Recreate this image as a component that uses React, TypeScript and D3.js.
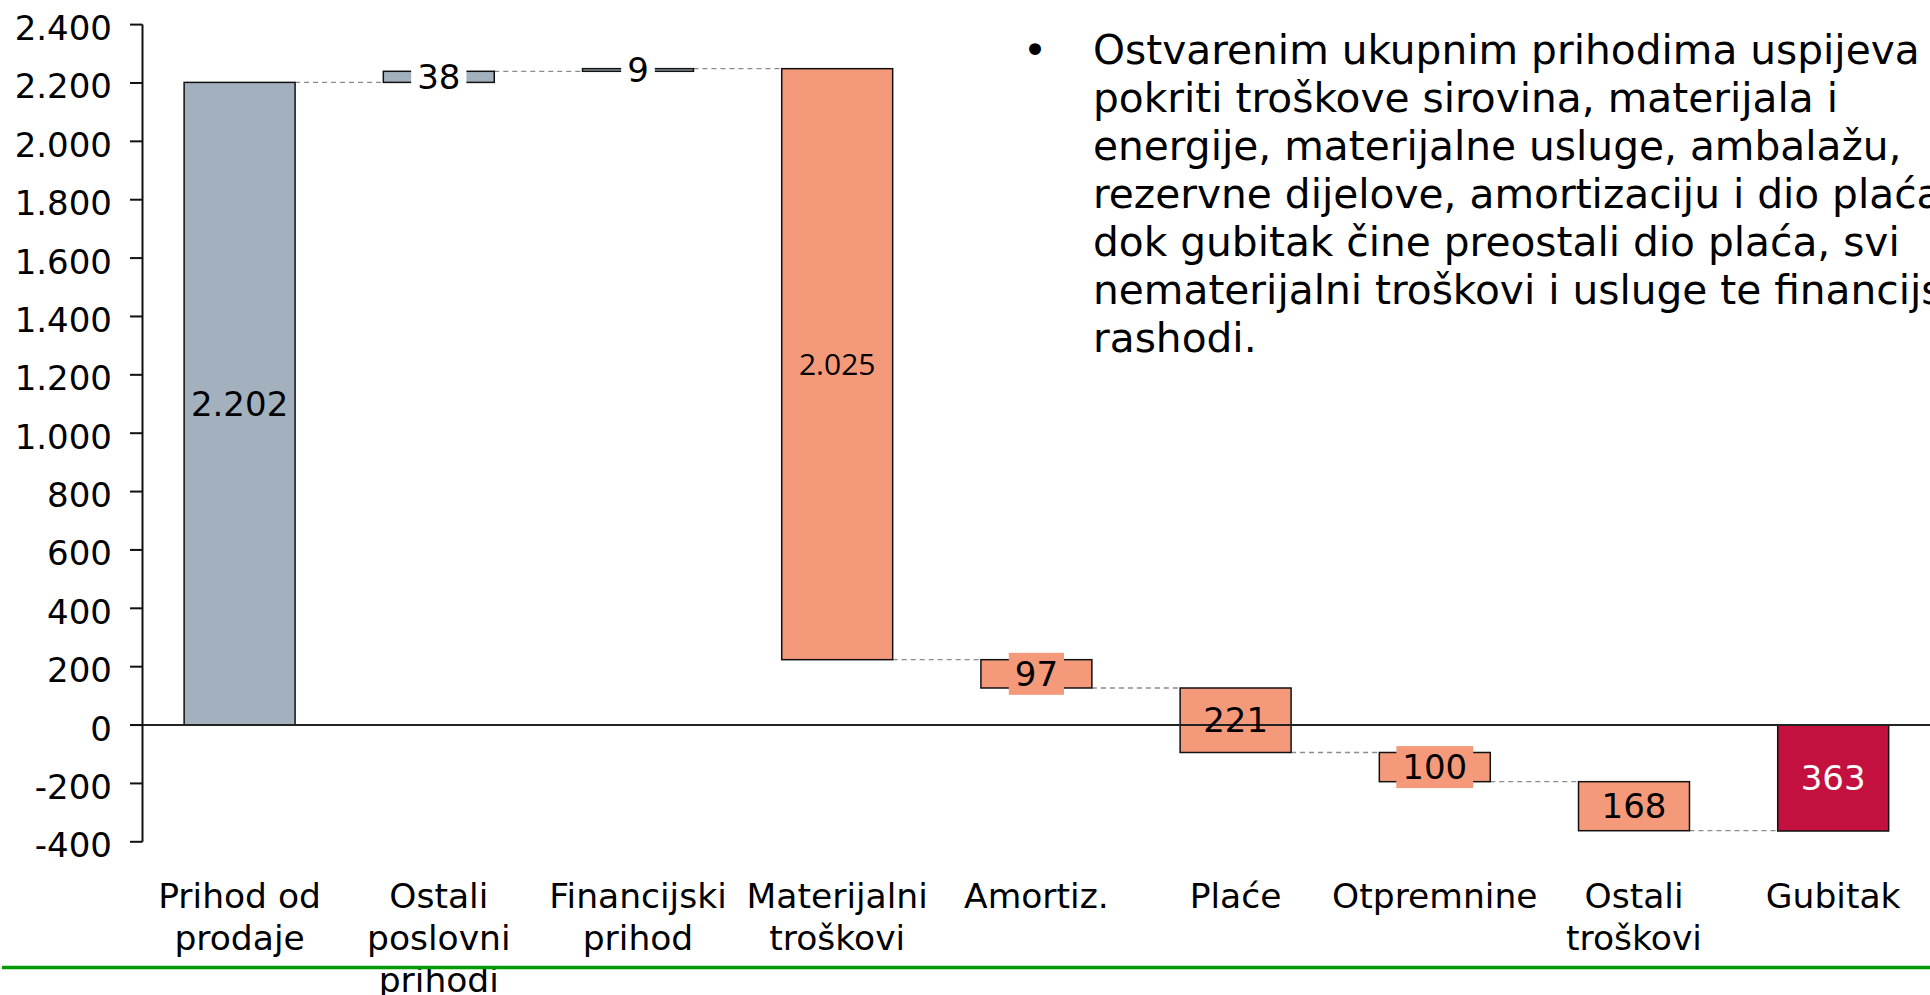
import React from "react";
import * as d3 from "d3";

const categories: string[][] = [
  ["Prihod od", "prodaje"],
  ["Ostali", "poslovni", "prihodi"],
  ["Financijski", "prihod"],
  ["Materijalni", "troškovi"],
  ["Amortiz."],
  ["Plaće"],
  ["Otpremnine"],
  ["Ostali", "troškovi"],
  ["Gubitak"],
];
const values: number[] = [2202, 38, 9, -2025, -97, -221, -100, -168, -363];
const kinds: string[] = ["income", "income", "income", "cost", "cost", "cost", "cost", "cost", "total"];
const labelBoxes: string[] = ["none", "white", "white", "none", "bar", "none", "bar", "none", "none"];
const yTicks: number[] = [-400, -200, 0, 200, 400, 600, 800, 1000, 1200, 1400, 1600, 1800, 2000, 2200, 2400];
const noteLines: string[] = [
  "Ostvarenim ukupnim prihodima uspijeva",
  "pokriti troškove sirovina, materijala i",
  "energije, materijalne usluge, ambalažu,",
  "rezervne dijelove, amortizaciju i dio plaća,",
  "dok gubitak čine preostali dio plaća, svi",
  "nematerijalni troškovi i usluge te financijski",
  "rashodi.",
];

const W = 1930;
const H = 995;
const colors: Record<string, string> = { income: "#A3B1BF", cost: "#F4997A", total: "#C3103E" };
const FONT = "'DejaVu Sans', Verdana, sans-serif";

const locale = d3.formatLocale({ decimal: ",", thousands: ".", grouping: [3], currency: ["", ""], minus: "-" });
const fmt = locale.format(",d");

export default function App() {
  const y = d3.scaleLinear().domain([-400, 2400]).range([841.8, 24.6]);
  const x = d3
    .scaleBand<number>()
    .domain(d3.range(categories.length))
    .range([140, 140 + 9 * 199.2])
    .paddingInner(0.443)
    .paddingOuter(0.2215);
  const bw = x.bandwidth();

  let running = 0;
  const bars = values.map((v, i) => {
    let start: number, end: number;
    if (kinds[i] === "total") {
      start = 0;
      end = v;
    } else {
      start = running;
      end = running + v;
      running = end;
    }
    return { i, v, start, end, kind: kinds[i] };
  });

  const axisX = 142.5;
  const tickFs = 34;
  const lblFs = 34;

  return (
    <svg
      width={W}
      height={H}
      style={{ position: "absolute", left: 0, top: 0, background: "#fff" }}
      fontFamily={FONT}
    >
      {/* connectors */}
      {bars.slice(0, -1).map((b, i) => {
        const level = b.end;
        const x1 = (x(i) as number) + bw;
        const x2 = x(i + 1) as number;
        return (
          <line
            key={"c" + i}
            x1={x1}
            x2={x2}
            y1={y(level)}
            y2={y(level)}
            stroke="#8c8c8c"
            strokeWidth={1.3}
            strokeDasharray="5,4"
          />
        );
      })}

      {/* bars */}
      {bars.map((b) => {
        const top = y(Math.max(b.start, b.end));
        const bot = y(Math.min(b.start, b.end));
        return (
          <rect
            key={"b" + b.i}
            x={x(b.i)}
            y={top}
            width={bw}
            height={bot - top}
            fill={colors[b.kind]}
            stroke="#111"
            strokeWidth={1.5}
          />
        );
      })}

      {/* zero line */}
      <line x1={130} x2={W} y1={y(0)} y2={y(0)} stroke="#222" strokeWidth={2} />

      {/* y axis */}
      <line x1={axisX} x2={axisX} y1={y(2400)} y2={y(-400)} stroke="#111" strokeWidth={2} />
      {yTicks.map((t) => (
        <g key={"t" + t}>
          <line x1={130} x2={axisX} y1={y(t)} y2={y(t)} stroke="#111" strokeWidth={2} />
          <text x={112} y={y(t) + 15.5} textAnchor="end" fontSize={tickFs} fill="#000">
            {fmt(t)}
          </text>
        </g>
      ))}

      {/* value labels */}
      {bars.map((b) => {
        const cx = (x(b.i) as number) + bw / 2;
        const mid = (y(b.start) + y(b.end)) / 2;
        const txt = fmt(Math.abs(b.v));
        const special = b.i === 3;
        const fs = special ? 30 : lblFs;
        const tw = txt.length * 0.636 * fs;
        const box = labelBoxes[b.i];
        return (
          <g key={"l" + b.i}>
            {box !== "none" && (
              <rect
                x={cx - tw / 2 - 6}
                y={mid - 21}
                width={tw + 12}
                height={42}
                fill={box === "white" ? "#fff" : colors[b.kind]}
              />
            )}
            <text
              x={cx}
              y={mid + fs * 0.36}
              textAnchor="middle"
              fontSize={fs}
              fontFamily={special ? "'Open Sans', sans-serif" : FONT}
              fill={b.kind === "total" ? "#fff" : "#000"}
            >
              {txt}
            </text>
          </g>
        );
      })}

      {/* category labels */}
      {categories.map((lines, i) => (
        <text
          key={"x" + i}
          x={(x(i) as number) + bw / 2}
          y={908}
          textAnchor="middle"
          fontSize={34.5}
          fill="#000"
        >
          {lines.map((l, j) => (
            <tspan key={j} x={(x(i) as number) + bw / 2} dy={j === 0 ? 0 : 42}>
              {l}
            </tspan>
          ))}
        </text>
      ))}

      {/* green rule */}
      <line x1={2} x2={W} y1={967.5} y2={967.5} stroke="#009900" strokeWidth={3.5} />

      {/* note */}
      <text x={1035} y={64} textAnchor="middle" fontSize={40.7} fill="#000">
        •
      </text>
      <text x={1093} y={64} fontSize={40.7} fill="#000">
        {noteLines.map((l, j) => (
          <tspan key={j} x={1093} dy={j === 0 ? 0 : 48}>
            {l}
          </tspan>
        ))}
      </text>
    </svg>
  );
}
